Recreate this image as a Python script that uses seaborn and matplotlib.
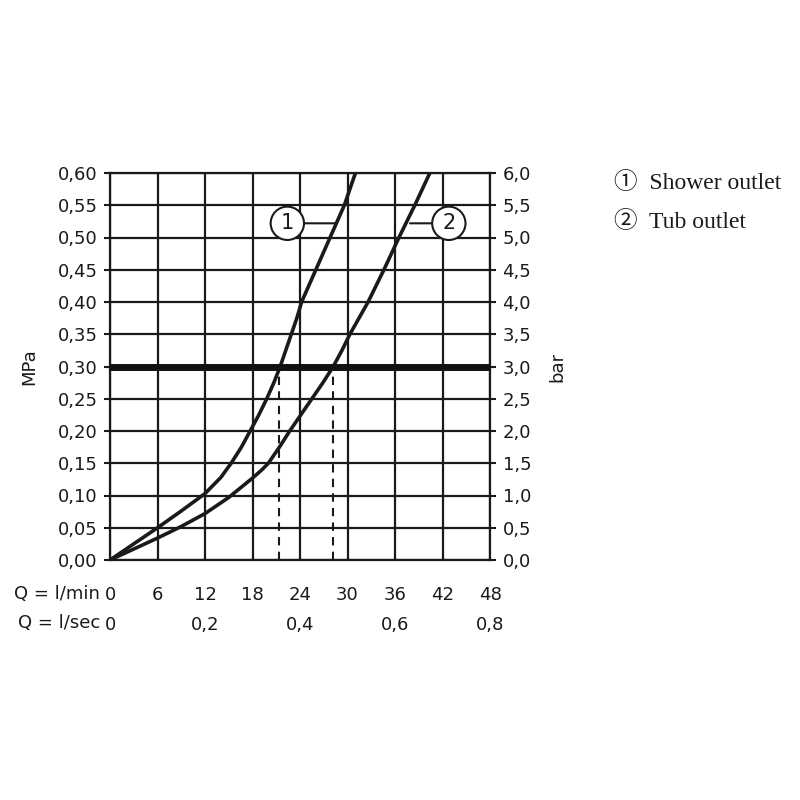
import matplotlib
matplotlib.use("Agg")
import matplotlib.pyplot as plt
import pandas as pd
import seaborn as sns
from matplotlib.ticker import FuncFormatter

# flow (l/min) vs pressure (MPa)
shower_flow = [0, 3, 6, 9, 12, 14.0, 15.3, 16.6, 17.7, 18.8, 19.8, 20.7, 21.5, 22.2, 22.9,
               23.6, 24.2, 26.0, 27.8, 29.6, 31.0]
shower_mpa = [0, 0.025, 0.05, 0.076, 0.103, 0.128, 0.15, 0.175, 0.20, 0.225, 0.25, 0.275, 0.30,
              0.325, 0.35, 0.375, 0.40, 0.45, 0.50, 0.55, 0.60]
tub_flow = [0, 3, 6, 9, 12, 15, 18, 19.2, 20.0, 21.4, 22.7, 24.1, 25.5, 26.9, 28.2, 29.3, 30.3,
            32.6, 34.6, 36.5, 38.5, 40.4]
tub_mpa = [0, 0.017, 0.034, 0.052, 0.072, 0.097, 0.127, 0.14, 0.15, 0.175, 0.20, 0.225, 0.25,
           0.275, 0.30, 0.325, 0.35, 0.40, 0.45, 0.50, 0.55, 0.60]

ref_pressure = 0.30
ref_flows = [21.3, 28.2]
lpm_ticks = [0, 6, 12, 18, 24, 30, 36, 42, 48]
lps_ticks = [0, 0.2, 0.4, 0.6, 0.8]
mpa_ticks = [i * 0.05 for i in range(13)]
bar_ticks = [i * 0.5 for i in range(13)]
legend_items = ["\u2460  Shower outlet", "\u2461  Tub outlet"]

df = pd.concat([
    pd.DataFrame({"flow": shower_flow, "mpa": shower_mpa, "outlet": "1"}),
    pd.DataFrame({"flow": tub_flow, "mpa": tub_mpa, "outlet": "2"}),
])

sns.set_style("white")
plt.rcParams["font.family"] = ["DejaVu Sans"]
ink = "#1a1a1a"

fig = plt.figure(figsize=(8, 8), dpi=100)
ax = fig.add_axes([0.1375, 0.3, 0.475, 0.48375])

for x in lpm_ticks:
    ax.axvline(x, color=ink, lw=1.6, zorder=1)
for y in mpa_ticks:
    ax.axhline(y, color=ink, lw=1.6, zorder=1)

sns.lineplot(data=df, x="flow", y="mpa", units="outlet", estimator=None,
             color=ink, lw=2.6, ax=ax, sort=False, zorder=3)

ax.axhline(ref_pressure, color="#111111", lw=5, zorder=4)
for x in ref_flows:
    ax.plot([x, x], [0, ref_pressure], color=ink, lw=1.5, ls=(0, (4, 3)), zorder=2)

ax.set_xlim(0, 48)
ax.set_ylim(0, 0.60)
ax.set_xticks(lpm_ticks)
ax.set_yticks(mpa_ticks)
ax.yaxis.set_major_formatter(FuncFormatter(lambda v, p: f"{v:.2f}".replace(".", ",")))
ax.tick_params(axis="both", direction="out", length=4, width=1.5, labelsize=13,
               color=ink, labelcolor=ink)
ax.tick_params(axis="x", pad=15)
ax.tick_params(axis="y", pad=5)
for s in ax.spines.values():
    s.set_color(ink)
    s.set_linewidth(1.6)
ax.set_xlabel("")
ax.set_ylabel("MPa", fontsize=13, labelpad=14, color=ink)

# circled curve labels
for num, cx, lx in [("1", 22.4, 28.5), ("2", 42.8, 37.9)]:
    ax.annotate(num, xy=(lx, 0.522), xytext=(cx, 0.522), fontsize=15,
                ha="center", va="center", color=ink, zorder=5,
                bbox=dict(boxstyle="circle,pad=0.32", fc="white", ec=ink, lw=1.5),
                arrowprops=dict(arrowstyle="-", color=ink, lw=1.5, shrinkA=0, shrinkB=0))

# right axis in bar
ax2 = ax.twinx()
ax2.set_ylim(0, 6.0)
ax2.set_yticks(bar_ticks)
ax2.yaxis.set_major_formatter(FuncFormatter(lambda v, p: f"{v:.1f}".replace(".", ",")))
ax2.tick_params(axis="y", direction="out", length=4, width=1.5, labelsize=13, pad=5,
                color=ink, labelcolor=ink)
ax2.set_ylabel("bar", fontsize=13, labelpad=12, color=ink, rotation=90)
for s in ax2.spines.values():
    s.set_visible(False)

# second flow scale in l/sec
sec = ax.secondary_xaxis(-0.14, functions=(lambda q: q / 60.0, lambda q: q * 60.0))
sec.set_xticks(lps_ticks)
sec.xaxis.set_major_formatter(
    FuncFormatter(lambda v, p: "0" if v == 0 else f"{v:.1f}".replace(".", ",")))
sec.tick_params(axis="x", length=0, labelsize=13, pad=1, labelcolor=ink)
sec.spines["bottom"].set_visible(False)

fig.text(0.125, 0.258, "Q = l/min", fontsize=13, ha="right", va="center", color=ink)
fig.text(0.125, 0.221, "Q = l/sec", fontsize=13, ha="right", va="center", color=ink)

for i, item in enumerate(legend_items):
    fig.text(0.767, 0.771 - i * 0.048, item, fontsize=17, ha="left", va="center",
             color=ink, family=["Liberation Serif", "Noto Sans CJK JP", "DejaVu Sans"])

fig.savefig("out.png", dpi=100)
